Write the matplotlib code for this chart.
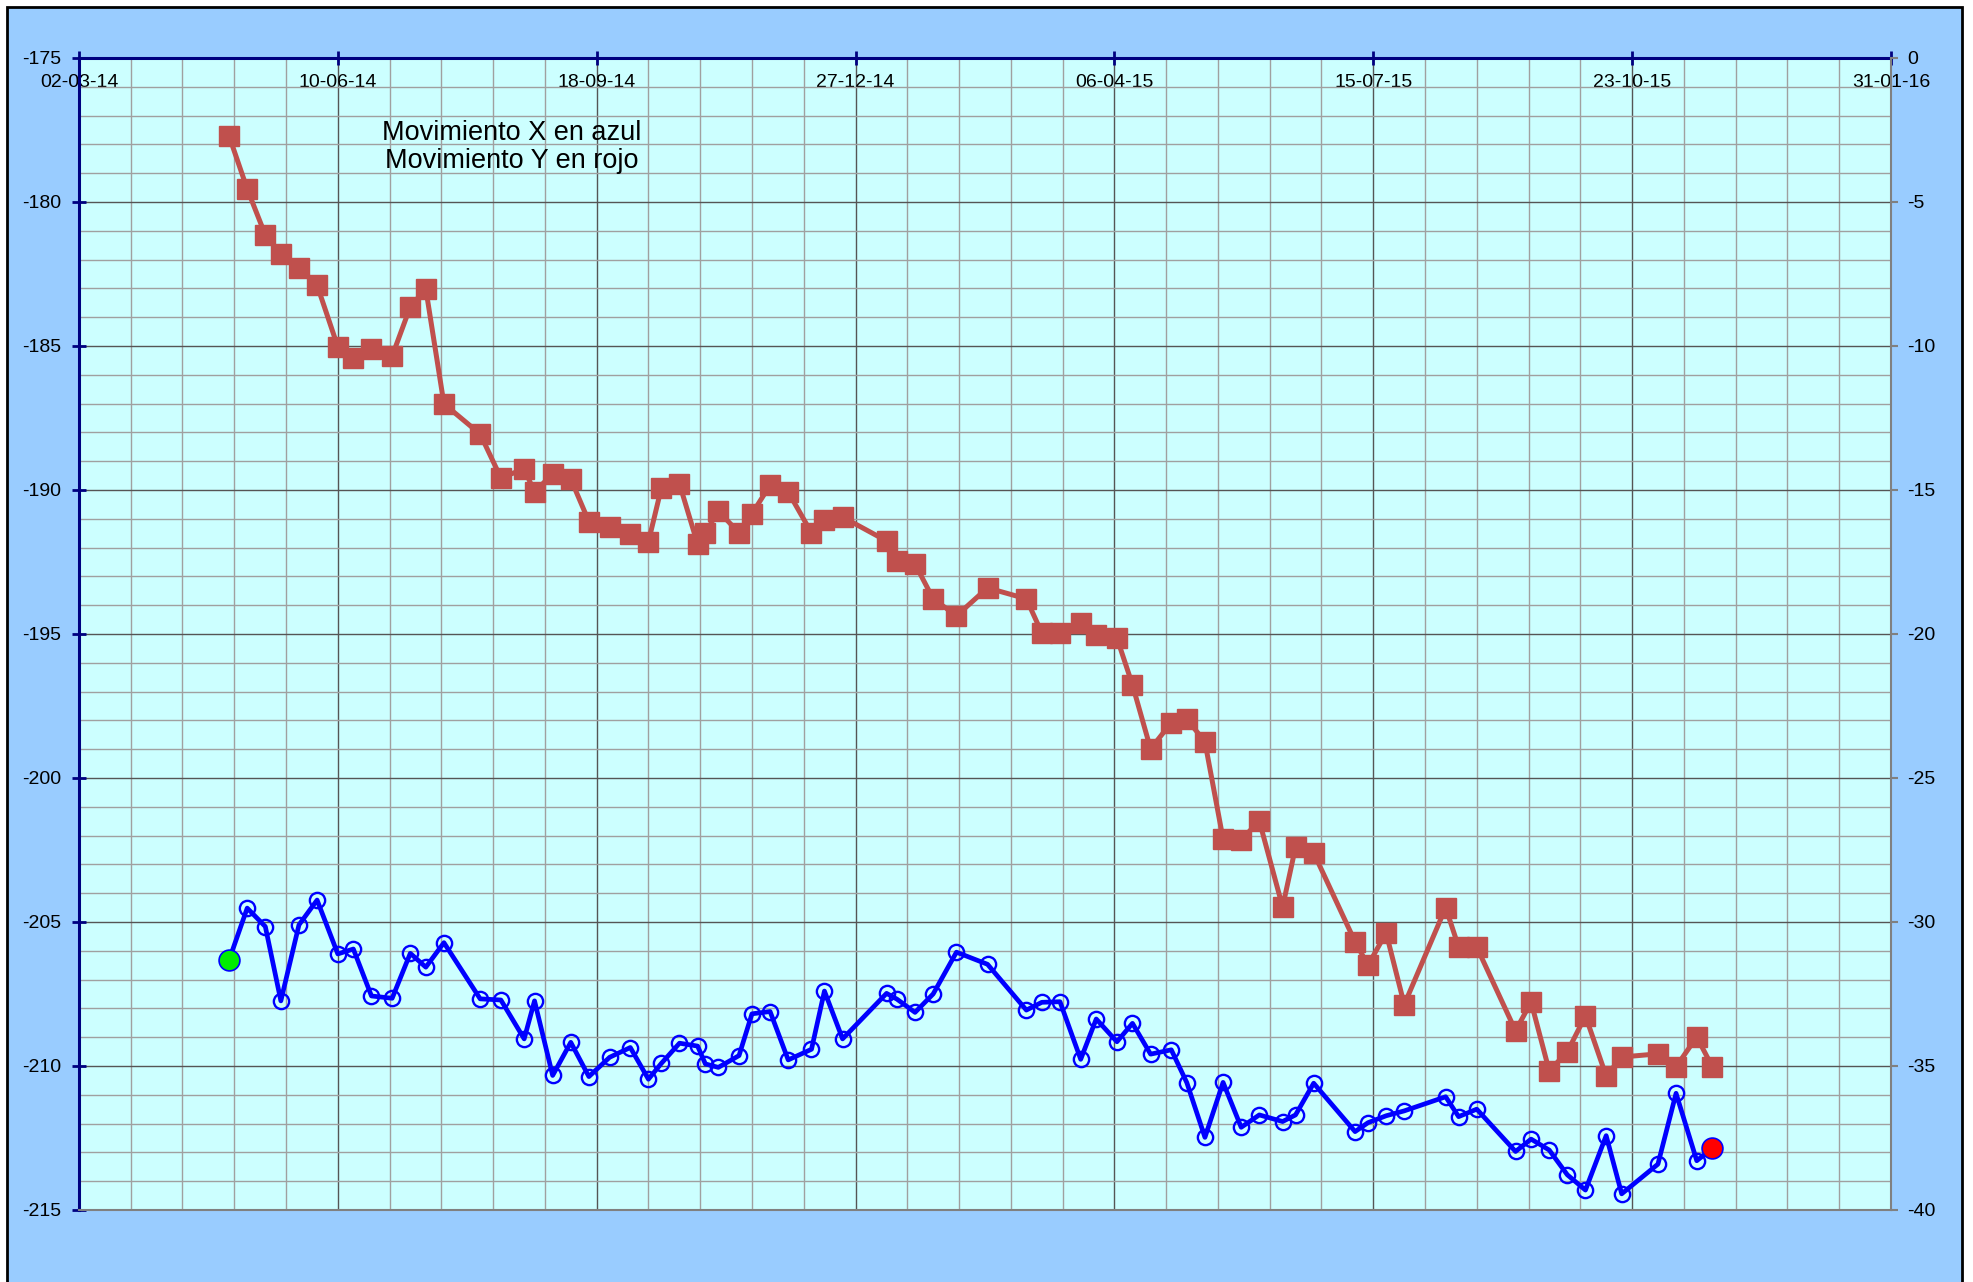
import matplotlib
matplotlib.use("Agg")
import matplotlib.pyplot as plt
import matplotlib.dates as mdates
from matplotlib.patches import Rectangle
from matplotlib.ticker import MultipleLocator, FixedLocator
import pandas as pd

plt.rcParams['font.family'] = ['Liberation Sans', 'DejaVu Sans']
plt.rcParams['axes.unicode_minus'] = False

# fechas de medida (iguales para las dos series)
fechas = [
    "2014-04-29", "2014-05-06", "2014-05-13", "2014-05-19", "2014-05-26", "2014-06-02", "2014-06-10", "2014-06-16", "2014-06-23", "2014-07-01",
    "2014-07-08", "2014-07-14", "2014-07-21", "2014-08-04", "2014-08-12", "2014-08-21", "2014-08-25", "2014-09-01", "2014-09-08", "2014-09-15",
    "2014-09-23", "2014-10-01", "2014-10-08", "2014-10-13", "2014-10-20", "2014-10-27", "2014-10-30", "2014-11-04", "2014-11-12", "2014-11-17",
    "2014-11-24", "2014-12-01", "2014-12-10", "2014-12-15", "2014-12-22", "2015-01-08", "2015-01-12", "2015-01-19", "2015-01-26", "2015-02-04",
    "2015-02-16", "2015-03-03", "2015-03-09", "2015-03-16", "2015-03-24", "2015-03-30", "2015-04-07", "2015-04-13", "2015-04-20", "2015-04-28",
    "2015-05-04", "2015-05-11", "2015-05-18", "2015-05-25", "2015-06-01", "2015-06-10", "2015-06-15", "2015-06-22", "2015-07-08", "2015-07-13",
    "2015-07-20", "2015-07-27", "2015-08-12", "2015-08-17", "2015-08-24", "2015-09-08", "2015-09-14", "2015-09-21", "2015-09-28", "2015-10-05",
    "2015-10-13", "2015-10-19", "2015-11-02", "2015-11-09", "2015-11-17", "2015-11-23",
]

# movimiento X (azul, eje izquierdo)
mov_x = [
    -206.32, -204.52, -205.16, -207.74, -205.10, -204.24, -206.11, -205.94, -207.57, -207.65,
    -206.09, -206.57, -205.72, -207.67, -207.71, -209.06, -207.74, -210.33, -209.18, -210.37,
    -209.70, -209.36, -210.46, -209.91, -209.21, -209.31, -209.93, -210.05, -209.64, -208.19,
    -208.11, -209.79, -209.42, -207.40, -209.06, -207.48, -207.68, -208.14, -207.50, -206.05,
    -206.47, -208.06, -207.79, -207.77, -209.77, -208.37, -209.16, -208.52, -209.59, -209.44,
    -210.58, -212.48, -210.57, -212.13, -211.70, -211.93, -211.70, -210.60, -212.28, -211.97,
    -211.73, -211.56, -211.07, -211.76, -211.50, -212.97, -212.54, -212.92, -213.78, -214.31,
    -212.42, -214.44, -213.41, -210.95, -213.29, -212.86,
]

# movimiento Y (rojo, eje derecho)
mov_y = [
    -2.71, -4.55, -6.15, -6.81, -7.28, -7.89, -10.03, -10.42, -10.11, -10.35,
    -8.64, -8.02, -12.01, -13.06, -14.58, -14.27, -15.07, -14.44, -14.62, -16.10,
    -16.28, -16.53, -16.80, -14.93, -14.79, -16.88, -16.49, -15.73, -16.49, -15.83,
    -14.83, -15.07, -16.49, -16.04, -15.94, -16.77, -17.47, -17.57, -18.78, -19.37,
    -18.40, -18.78, -19.97, -19.97, -19.62, -20.03, -20.14, -21.77, -23.99, -23.08,
    -22.95, -23.75, -27.12, -27.15, -26.49, -29.48, -27.40, -27.60, -30.69, -31.50,
    -30.38, -32.87, -29.50, -30.87, -30.87, -33.78, -32.78, -35.17, -34.51, -33.26,
    -35.35, -34.69, -34.58, -35.03, -33.99, -35.03,
]

inicio = pd.Timestamp("2014-03-02")
fin = pd.Timestamp("2016-01-31")
texto = "Movimiento X en azul\nMovimiento Y en rojo"

navy = '#000080'
gris = '#808080'

fig = plt.figure(figsize=(19.74, 12.82), dpi=100, facecolor='white')
fondo = Rectangle((7 / 1974, -0.02), 1955 / 1974, 1.02 - 7 / 1282,
                  transform=fig.transFigure, facecolor='#99CCFF',
                  edgecolor='black', lw=2, zorder=-10)
fig.patches.append(fondo)

ax = fig.add_axes([0.0400, 0.0562, 0.9179, 0.8986])
ax.set_facecolor('#CCFFFF')
ax2 = ax.twinx()

t = pd.to_datetime(fechas)

ax.plot(t, mov_x, color='#0000FF', lw=3.4, marker='o', ms=11, mfc='none',
        mec='#0000FF', mew=1.7, zorder=3)
ax.plot(t[:1], mov_x[:1], 'o', ms=15, mfc='#00EE00', mec='#0000FF', mew=1.2, zorder=4)
ax.plot(t[-1:], mov_x[-1:], 'o', ms=15, mfc='#FF0000', mec='#0000FF', mew=1.2, zorder=4)

ax2.plot(t, mov_y, color='#C0504D', lw=3.6, marker='s', ms=14, mfc='#C0504D',
         mec='#C0504D', zorder=3)

# ejes
ax.set_xlim(inicio, fin)
ax.set_ylim(-215, -175)
ax2.set_ylim(-40, 0)

mayores = [mdates.date2num(inicio + pd.Timedelta(days=100 * k)) for k in range(8)]
menores = [mdates.date2num(inicio + pd.Timedelta(days=20 * k)) for k in range(36)]
ax.xaxis.set_major_locator(FixedLocator(mayores))
ax.xaxis.set_minor_locator(FixedLocator(menores))
ax.xaxis.set_major_formatter(mdates.DateFormatter('%d-%m-%y'))
ax.yaxis.set_major_locator(MultipleLocator(5))
ax.yaxis.set_minor_locator(MultipleLocator(1))
ax2.yaxis.set_major_locator(MultipleLocator(5))

ax.set_axisbelow(True)
ax.grid(which='major', color='#555555', lw=1.0)
ax.grid(which='minor', color='#a0a0a0', lw=1.0)

ax.xaxis.set_ticks_position('top')
ax.tick_params(axis='x', which='major', direction='inout', length=10, width=2,
               color=navy, labelsize=14, pad=-29, labeltop=True, labelbottom=False)
ax.tick_params(axis='x', which='minor', length=0)
ax.tick_params(axis='y', which='major', direction='inout', length=10, width=2,
               color=navy, labelsize=14, pad=8)
ax.tick_params(axis='y', which='minor', length=0)
ax2.tick_params(axis='y', which='major', direction='out', length=5, width=1.5,
                color=gris, labelsize=14, pad=7)

for s in ['top', 'left']:
    ax.spines[s].set_color(navy)
    ax.spines[s].set_linewidth(2.2)
ax.spines['bottom'].set_color(gris)
ax.spines['bottom'].set_linewidth(1.5)
ax.spines['right'].set_visible(False)
for s in ['top', 'left', 'bottom']:
    ax2.spines[s].set_visible(False)
ax2.spines['right'].set_color(gris)
ax2.spines['right'].set_linewidth(1.5)

ax.text(0.239, 0.923, texto, transform=ax.transAxes, ha='center', va='center',
        multialignment='center', fontsize=19.5, linespacing=1.1, color='black')

fig.savefig('out.png', dpi=100)
